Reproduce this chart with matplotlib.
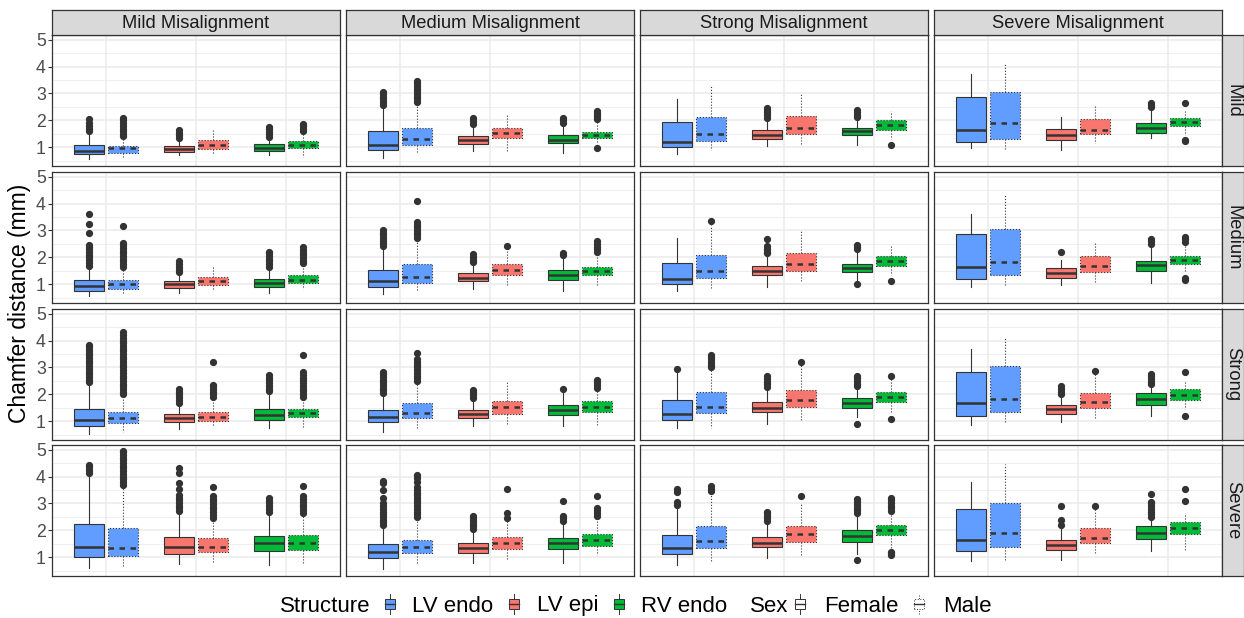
import numpy as np
import matplotlib.pyplot as plt
from matplotlib.lines import Line2D
from matplotlib.patches import Rectangle
from matplotlib.legend_handler import HandlerBase

plt.rcParams['font.family'] = ['Liberation Sans', 'DejaVu Sans']

col_labels = ['Mild Misalignment', 'Medium Misalignment', 'Strong Misalignment', 'Severe Misalignment']
row_labels = ['Mild', 'Medium', 'Strong', 'Severe']
structures = ['LV endo', 'LV epi', 'RV endo']
sexes = ['Female', 'Male']
struct_colors = ['#619CFF', '#F8766D', '#00BA38']

# Box statistics, indexed [row][column][box], box order in every panel:
# LV endo F, LV endo M, LV epi F, LV epi M, RV endo F, RV endo M
whislo = [
    [[0.57, 0.63, 0.70, 0.74, 0.70, 0.66], [0.61, 0.84, 0.88, 0.88, 0.79, 1.12],
     [0.74, 0.91, 1.04, 1.13, 1.09, 1.30], [0.98, 0.91, 0.91, 1.16, 1.34, 1.45]],
    [[0.57, 0.64, 0.68, 0.75, 0.69, 0.84], [0.64, 0.74, 0.83, 0.94, 0.74, 0.96],
     [0.75, 0.88, 0.90, 1.13, 1.15, 1.33], [0.90, 0.94, 0.96, 1.08, 1.06, 1.45]],
    [[0.53, 0.62, 0.72, 0.82, 0.74, 0.75], [0.62, 0.74, 0.82, 0.91, 0.84, 0.86],
     [0.74, 0.75, 0.90, 1.02, 1.15, 1.33], [0.88, 0.96, 0.96, 1.13, 1.20, 1.45]],
    [[0.60, 0.68, 0.77, 0.84, 0.71, 0.80], [0.56, 0.77, 0.80, 0.93, 0.80, 1.09],
     [0.71, 0.84, 0.99, 1.09, 1.11, 1.29], [0.87, 0.92, 0.92, 1.15, 1.24, 1.24]],
]
q1 = [
    [[0.74, 0.79, 0.84, 0.94, 0.87, 0.98], [0.89, 1.07, 1.11, 1.34, 1.15, 1.34],
     [1.00, 1.22, 1.30, 1.48, 1.45, 1.65], [1.21, 1.30, 1.29, 1.49, 1.55, 1.79]],
    [[0.77, 0.84, 0.88, 0.96, 0.90, 1.06], [0.90, 1.05, 1.13, 1.33, 1.17, 1.33],
     [1.02, 1.22, 1.33, 1.51, 1.45, 1.70], [1.20, 1.33, 1.25, 1.46, 1.50, 1.74]],
    [[0.82, 0.94, 0.96, 1.03, 1.06, 1.15], [0.96, 1.11, 1.12, 1.29, 1.24, 1.36],
     [1.06, 1.30, 1.33, 1.53, 1.50, 1.73], [1.20, 1.34, 1.28, 1.48, 1.62, 1.80]],
    [[1.00, 1.06, 1.12, 1.20, 1.23, 1.29], [0.99, 1.15, 1.15, 1.32, 1.31, 1.44],
     [1.11, 1.36, 1.38, 1.57, 1.57, 1.82], [1.23, 1.38, 1.27, 1.52, 1.68, 1.85]],
]
med = [
    [[0.87, 0.96, 0.94, 1.10, 0.98, 1.10], [1.07, 1.32, 1.27, 1.52, 1.27, 1.45],
     [1.21, 1.48, 1.46, 1.73, 1.59, 1.84], [1.65, 1.89, 1.46, 1.66, 1.73, 1.94]],
    [[0.93, 1.01, 1.02, 1.12, 1.06, 1.18], [1.11, 1.29, 1.23, 1.54, 1.33, 1.48],
     [1.21, 1.50, 1.49, 1.74, 1.61, 1.88], [1.63, 1.82, 1.43, 1.69, 1.71, 1.90]],
    [[1.05, 1.11, 1.12, 1.18, 1.23, 1.30], [1.15, 1.30, 1.28, 1.54, 1.42, 1.55],
     [1.27, 1.52, 1.50, 1.79, 1.69, 1.90], [1.67, 1.83, 1.45, 1.72, 1.83, 1.99]],
    [[1.37, 1.33, 1.39, 1.40, 1.52, 1.55], [1.21, 1.38, 1.33, 1.53, 1.52, 1.66],
     [1.33, 1.59, 1.54, 1.85, 1.80, 2.03], [1.66, 1.90, 1.45, 1.73, 1.90, 2.08]],
]
q3 = [
    [[1.07, 1.06, 1.06, 1.29, 1.11, 1.22], [1.59, 1.72, 1.43, 1.71, 1.45, 1.57],
     [1.95, 2.13, 1.63, 2.16, 1.73, 2.00], [2.87, 3.06, 1.68, 2.06, 1.91, 2.10]],
    [[1.17, 1.15, 1.12, 1.27, 1.21, 1.33], [1.52, 1.74, 1.43, 1.74, 1.52, 1.66],
     [1.80, 2.09, 1.67, 2.15, 1.76, 2.05], [2.86, 3.07, 1.61, 2.05, 1.88, 2.07]],
    [[1.45, 1.36, 1.28, 1.36, 1.47, 1.45], [1.42, 1.70, 1.42, 1.77, 1.60, 1.74],
     [1.80, 2.09, 1.73, 2.17, 1.88, 2.10], [2.84, 3.05, 1.62, 2.04, 2.05, 2.20]],
    [[2.23, 2.10, 1.76, 1.71, 1.81, 1.82], [1.50, 1.66, 1.52, 1.75, 1.73, 1.86],
     [1.84, 2.18, 1.75, 2.15, 2.00, 2.22], [2.80, 3.01, 1.63, 2.08, 2.15, 2.30]],
]
whishi = [
    [[1.55, 1.37, 1.30, 1.67, 1.32, 1.50], [2.52, 2.62, 1.79, 2.22, 1.85, 1.98],
     [2.80, 3.26, 2.04, 2.98, 2.06, 2.35], [3.73, 4.15, 2.12, 2.54, 2.40, 2.40]],
    [[1.64, 1.58, 1.39, 1.64, 1.58, 1.70], [2.37, 2.68, 1.76, 2.30, 2.05, 2.13],
     [2.74, 3.20, 2.07, 2.97, 2.25, 2.44], [3.60, 4.34, 1.92, 2.55, 2.43, 2.43]],
    [[2.37, 1.92, 1.64, 1.82, 2.07, 1.88], [2.00, 2.44, 1.82, 2.47, 2.07, 2.17],
     [2.90, 2.93, 2.20, 3.10, 2.24, 2.60], [3.67, 4.15, 1.94, 2.78, 2.30, 2.45]],
    [[4.08, 3.59, 2.65, 2.40, 2.64, 2.60], [2.15, 2.46, 1.97, 2.40, 2.28, 2.40],
     [2.89, 3.38, 2.28, 2.98, 2.58, 2.64], [3.81, 4.45, 2.04, 2.83, 2.45, 2.65]],
]
fliers = [
    [
        [[1.6, 1.7, 1.8, 1.9, 2.06], [1.42, 1.5, 1.6, 1.7, 1.8, 1.9, 2.0, 2.1],
         [1.36, 1.45, 1.55, 1.64], [], [1.38, 1.48, 1.58, 1.68, 1.76], [1.6, 1.7, 1.8, 1.85]],
        [[2.58, 2.68, 2.78, 2.88, 2.98, 3.04], [2.68, 2.78, 2.88, 2.98, 3.08, 3.18, 3.28, 3.38, 3.45],
         [1.88, 1.98, 2.1], [], [1.92, 2.02, 2.1], [0.96, 2.04, 2.12, 2.2, 2.28, 2.35]],
        [[], [], [2.1, 2.2, 2.3, 2.4, 2.46], [], [2.12, 2.22, 2.32, 2.38], [1.09]],
        [[], [], [], [], [2.5, 2.58, 2.65], [1.24, 1.28, 2.63]],
    ],
    [
        [[1.7, 1.8, 1.9, 2.0, 2.1, 2.2, 2.3, 2.4, 2.45, 2.9, 3.25, 3.6],
         [1.65, 1.75, 1.85, 1.95, 2.05, 2.15, 2.25, 2.35, 2.45, 2.55, 3.15],
         [1.45, 1.55, 1.65, 1.75, 1.85], [],
         [1.65, 1.75, 1.85, 1.95, 2.05, 2.15, 2.2], [1.78, 1.88, 1.98, 2.08, 2.18, 2.28, 2.4]],
        [[2.42, 2.52, 2.62, 2.72, 2.82, 2.92, 3.0], [2.72, 2.82, 2.92, 3.02, 3.12, 3.22, 3.3, 4.08],
         [1.82, 1.92, 2.02, 2.12], [2.42], [2.1, 2.15], [2.2, 2.3, 2.4, 2.5, 2.6]],
        [[], [3.36], [2.16, 2.22, 2.3, 2.43, 2.7], [], [1.01, 2.3, 2.38, 2.45], [1.11]],
        [[], [], [2.21], [], [2.5, 2.6, 2.7], [1.15, 1.22, 2.58, 2.68, 2.75]],
    ],
    [
        [[2.45, 2.55, 2.65, 2.75, 2.85, 2.95, 3.05, 3.15, 3.25, 3.35, 3.45, 3.55, 3.65, 3.75, 3.85],
         [2.0, 2.1, 2.2, 2.3, 2.4, 2.5, 2.6, 2.7, 2.8, 2.9, 3.0, 3.1, 3.2, 3.3, 3.4, 3.5,
          3.6, 3.7, 3.8, 3.9, 4.0, 4.1, 4.2, 4.3],
         [1.7, 1.8, 1.9, 2.0, 2.1, 2.2], [1.9, 2.0, 2.1, 2.2, 2.3, 2.35, 3.2],
         [2.12, 2.22, 2.32, 2.42, 2.52, 2.62, 2.72],
         [1.92, 2.02, 2.12, 2.22, 2.32, 2.42, 2.52, 2.62, 2.72, 2.82, 3.45]],
        [[2.05, 2.15, 2.25, 2.35, 2.45, 2.55, 2.65, 2.75, 2.85],
         [2.5, 2.6, 2.7, 2.8, 2.9, 3.0, 3.1, 3.2, 3.3, 3.55],
         [1.88, 1.98, 2.08, 2.18], [], [2.2], [2.25, 2.35, 2.45, 2.55]],
        [[2.96], [3.0, 3.1, 3.2, 3.3, 3.4, 3.45], [2.28, 2.38, 2.48, 2.58, 2.68], [3.2],
         [0.9, 2.3, 2.4, 2.5, 2.6, 2.7], [1.1, 2.7]],
        [[], [], [2.0, 2.1, 2.2, 2.3], [2.87], [2.38, 2.48, 2.58, 2.68, 2.75], [1.2, 2.85]],
    ],
    [
        [[4.15, 4.25, 4.35, 4.42],
         [3.7, 3.8, 3.9, 4.0, 4.1, 4.2, 4.3, 4.4, 4.5, 4.6, 4.7, 4.8, 4.9, 4.95],
         [2.72, 2.82, 2.92, 3.02, 3.12, 3.22, 3.32, 3.55, 3.75, 4.15, 4.3],
         [2.48, 2.58, 2.68, 2.78, 2.88, 2.98, 3.08, 3.18, 3.28, 3.62],
         [2.7, 2.8, 2.9, 3.0, 3.1, 3.2],
         [2.66, 2.76, 2.86, 2.96, 3.06, 3.16, 3.26, 3.65]],
        [[2.2, 2.3, 2.4, 2.5, 2.6, 2.7, 2.8, 2.9, 3.0, 3.2, 3.5, 3.75, 3.85],
         [2.5, 2.6, 2.7, 2.8, 2.9, 3.0, 3.1, 3.2, 3.3, 3.4, 3.5, 3.6, 3.8, 3.95, 4.05],
         [2.05, 2.15, 2.25, 2.35, 2.45, 2.55], [2.45, 2.65, 3.55],
         [2.35, 2.45, 2.55, 3.1], [2.55, 2.65, 2.75, 2.85, 3.27]],
        [[2.95, 3.05, 3.42, 3.52], [3.45, 3.55, 3.65], [2.35, 2.45, 2.55, 2.65, 2.7], [3.28],
         [0.91, 2.65, 2.75, 2.85, 2.95, 3.05, 3.15],
         [1.1, 1.15, 1.2, 2.72, 2.82, 2.92, 3.02, 3.12, 3.2]],
        [[], [], [2.2, 2.4, 2.92], [2.91], [2.5, 2.6, 2.7, 2.8, 2.9, 3.0, 3.05, 3.35], [3.1, 3.55]],
    ],
]

# y range shared by all facets, padded like ggplot (5 %)
all_lo = min(min(min(p) for p in r) for r in whislo)
all_hi = max(max(max(p) for p in r) for r in whishi)
for r in fliers:
    for p in r:
        for f in p:
            if f:
                all_lo = min(all_lo, min(f))
                all_hi = max(all_hi, max(f))
pad = 0.05 * (all_hi - all_lo)
ylim = (all_lo - pad, all_hi + pad)

W, H = 1244, 618
fig = plt.figure(figsize=(W / 100, H / 100), dpi=100)


def px_rect(x0, y0, x1, y1):
    return [x0 / W, 1 - y1 / H, (x1 - x0) / W, (y1 - y0) / H]


col_x = [52, 346, 640, 934]
row_y = [35, 172, 309, 445]
pw, ph = 288, 131
edge = '#333333'
styles = {'Female': ('-', '-'), 'Male': (':', (0, (2.2, 2.2)))}
offsets = {'Female': -0.1875, 'Male': 0.1875}

for i in range(4):
    for j in range(4):
        ax = fig.add_axes(px_rect(col_x[j], row_y[i], col_x[j] + pw, row_y[i] + ph))
        ax.set_xlim(0.4, 3.6)
        ax.set_ylim(*ylim)
        ax.set_xticks([1, 2, 3])
        ax.set_yticks([1, 2, 3, 4, 5])
        ax.set_yticks(np.arange(0.5, 5.0, 1.0), minor=True)
        ax.grid(True, which='major', color='#EBEBEB', linewidth=1.1)
        ax.grid(True, which='minor', axis='y', color='#EBEBEB', linewidth=0.55)
        ax.set_axisbelow(True)
        ax.tick_params(axis='x', length=0, labelbottom=False)
        ax.tick_params(axis='y', which='minor', length=0)
        if j == 0:
            ax.tick_params(axis='y', which='major', length=3, width=0.8, color=edge,
                           labelsize=12.8, labelcolor='#4D4D4D', pad=1.5)
        else:
            ax.tick_params(axis='y', which='major', length=0, labelleft=False)
        for sp in ax.spines.values():
            sp.set_color(edge)
            sp.set_linewidth(0.9)

        for s, sex in enumerate(sexes):
            idx = [2 * k + s for k in range(3)]
            stats = [dict(whislo=whislo[i][j][b], q1=q1[i][j][b], med=med[i][j][b],
                          q3=q3[i][j][b], whishi=whishi[i][j][b], fliers=fliers[i][j][b])
                     for b in idx]
            box_ls, med_ls = styles[sex]
            pos = [k + 1 + offsets[sex] for k in range(3)]
            art = ax.bxp(stats, positions=pos, widths=0.34, patch_artist=True,
                         showcaps=False, manage_ticks=False,
                         boxprops=dict(edgecolor=edge, linewidth=0.8, linestyle=box_ls),
                         medianprops=dict(color=edge, linewidth=1.8, linestyle=med_ls),
                         whiskerprops=dict(color=edge, linewidth=0.8, linestyle=box_ls),
                         flierprops=dict(marker='o', markersize=4.2, markerfacecolor=edge,
                                         markeredgecolor=edge, linestyle='none'))
            for patch, c in zip(art['boxes'], struct_colors):
                patch.set_facecolor(c)

# facet strips
for j in range(4):
    sax = fig.add_axes(px_rect(col_x[j], 10, col_x[j] + pw, 35))
    sax.set_facecolor('#D9D9D9')
    sax.set_xticks([]); sax.set_yticks([])
    for sp in sax.spines.values():
        sp.set_color(edge); sp.set_linewidth(0.9)
    sax.text(0.5, 0.47, col_labels[j], ha='center', va='center', fontsize=13.2,
             color='#1A1A1A', transform=sax.transAxes)
for i in range(4):
    sax = fig.add_axes(px_rect(1222, row_y[i], 1244, row_y[i] + ph))
    sax.set_facecolor('#D9D9D9')
    sax.set_xticks([]); sax.set_yticks([])
    for sp in sax.spines.values():
        sp.set_color(edge); sp.set_linewidth(0.9)
    sax.text(0.5, 0.5, row_labels[i], ha='center', va='center', fontsize=13.2,
             rotation=-90, color='#1A1A1A', transform=sax.transAxes)

fig.text(20 / W, 1 - 303 / H, 'Chamfer distance (mm)', rotation=90, ha='center',
         va='center', fontsize=16.5, color='black')


# legend keys drawn as small boxplots
class BoxKey(HandlerBase):
    def create_artists(self, legend, orig_handle, xdescent, ydescent, width, height,
                       fontsize, trans):
        ls = orig_handle.get_linestyle()
        fc = orig_handle.get_facecolor()
        cx = width / 2 - xdescent
        h = height * 1.3
        y0 = -ydescent + height / 2 - h / 2
        bw = width * 0.55
        whisker = Line2D([cx, cx], [y0, y0 + h], color=edge, lw=0.7, linestyle=ls,
                         transform=trans)
        box = Rectangle((cx - bw / 2, y0 + h * 0.25), bw, h * 0.5, facecolor=fc,
                        edgecolor=edge, lw=0.7, linestyle=ls, transform=trans)
        mid = Line2D([cx - bw / 2, cx + bw / 2], [y0 + h / 2, y0 + h / 2], color=edge,
                     lw=1.0, transform=trans)
        return [whisker, box, mid]


ly = 1 - 606 / H
struct_handles = [Rectangle((0, 0), 1, 1, facecolor=c, linestyle='-') for c in struct_colors]
sex_handles = [Rectangle((0, 0), 1, 1, facecolor='white', linestyle='-'),
               Rectangle((0, 0), 1, 1, facecolor='white', linestyle=':')]
fig.text(280 / W, ly, 'Structure', ha='left', va='center', fontsize=16)
fig.legend(struct_handles, structures, loc='center left', bbox_to_anchor=(381 / W, ly),
           ncol=3, frameon=False, fontsize=16, handlelength=0.8, handletextpad=0.6,
           columnspacing=0.55, borderpad=0, borderaxespad=0,
           handler_map={Rectangle: BoxKey()})
fig.text(750 / W, ly, 'Sex', ha='left', va='center', fontsize=16)
fig.legend(sex_handles, sexes, loc='center left', bbox_to_anchor=(791 / W, ly),
           ncol=2, frameon=False, fontsize=16, handlelength=0.8, handletextpad=0.7,
           columnspacing=0.5, borderpad=0, borderaxespad=0,
           handler_map={Rectangle: BoxKey()})

fig.savefig('out.png', dpi=100)
